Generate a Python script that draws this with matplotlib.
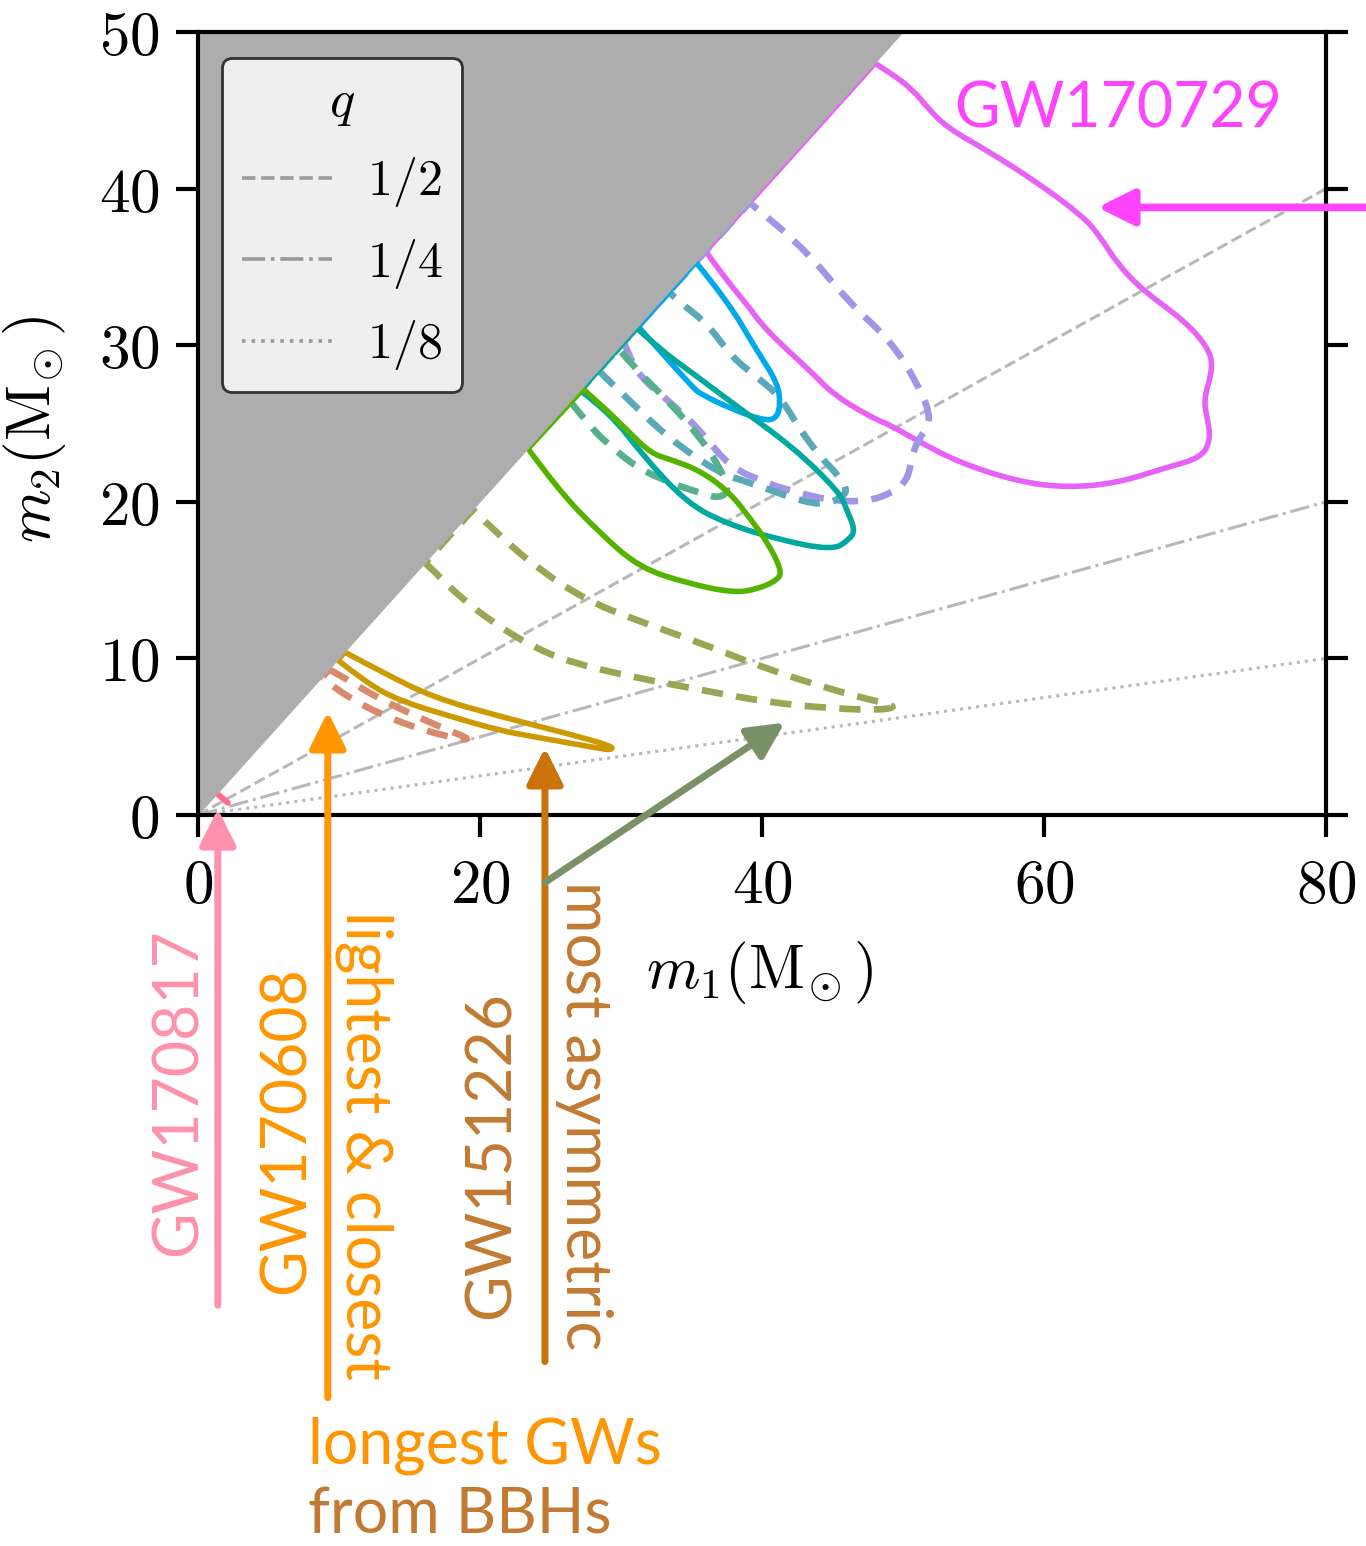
import numpy as np
import matplotlib.pyplot as plt
from matplotlib.path import Path
from matplotlib.patches import PathPatch
from matplotlib.ticker import FuncFormatter, MultipleLocator

plt.rcParams["mathtext.fontset"] = "cm"
plt.rcParams["font.family"] = ["Lato", "DejaVu Sans"]

# axis ranges (solar masses)
m1_max = 80
m2_max = 50

# mass-ratio guide lines m2 = q * m1
q_values = [1 / 2, 1 / 4, 1 / 8]
q_labels = [r"$1/2$", r"$1/4$", r"$1/8$"]
q_styles = ["--", "-.", ":"]

# 90% credible regions in the (m1, m2) plane
gw170729_m1 = [36.0, 36.8, 37.9, 39.1, 39.9, 41.3, 43.6, 45.0, 47.5, 49.3, 51.0, 54.0, 58.1,
               61.6, 65.2, 68.7, 71.1, 71.8, 71.6, 71.3, 72.0, 71.6, 69.9, 67.0, 65.2, 64.0,
               62.8, 59.5, 56.2, 53.1, 51.7, 50.7, 49.1, 48.0, 36.0]
gw170729_m2 = [36.0, 35.0, 33.7, 32.4, 31.4, 30.1, 28.2, 26.9, 25.5, 24.8, 23.9, 22.5, 21.3,
               20.9, 21.2, 22.2, 22.8, 23.9, 25.3, 26.5, 28.6, 29.9, 31.6, 33.5, 35.2, 36.9,
               38.2, 40.4, 42.3, 43.9, 45.2, 46.3, 47.4, 48.0, 36.0]

gw170823_m1 = [30.2, 30.4, 31.3, 33.3, 35.6, 37.7, 40.4, 41.3, 44.6, 47.4, 49.3, 50.3, 50.6,
               51.0, 52.1, 51.0, 49.1, 46.2, 42.5, 39.1, 30.2]
gw170823_m2 = [30.2, 29.7, 28.0, 26.5, 24.6, 22.2, 21.2, 20.9, 20.1, 20.0, 20.6, 21.4, 22.7,
               23.9, 25.2, 27.6, 30.3, 32.7, 36.7, 39.1, 30.2]

gw170104_m1 = [28.4, 28.7, 30.1, 33.3, 37.0, 38.9, 43.2, 44.8, 45.8, 46.0, 45.5, 44.1, 42.7,
               41.3, 39.6, 37.9, 36.1, 34.2, 33.4, 28.4]
gw170104_m2 = [28.4, 28.1, 26.9, 24.1, 21.8, 21.3, 19.9, 19.9, 20.4, 20.8, 21.6, 22.9, 24.6,
               26.7, 28.0, 29.2, 31.4, 32.7, 33.4, 28.4]

gw170818_m1 = [26.4, 28.0, 29.2, 31.1, 33.5, 35.5, 37.0, 37.7, 36.8, 35.6, 33.5, 31.1, 29.8, 26.4]
gw170818_m2 = [26.4, 24.6, 23.6, 22.2, 21.2, 20.6, 20.2, 20.8, 22.5, 24.1, 26.3, 28.4, 29.8, 26.4]

gw150914_m1 = [31.2, 33.3, 35.1, 35.6, 37.9, 40.1, 41.0, 41.3, 41.1, 39.6, 37.5, 35.3, 31.2]
gw150914_m2 = [31.2, 29.1, 27.3, 26.9, 25.9, 25.2, 25.3, 26.2, 27.6, 29.7, 32.9, 35.3, 31.2]

gw170809_m1 = [27.1, 29.2, 31.6, 34.7, 37.5, 41.1, 45.0, 46.2, 46.6, 46.0, 45.5, 42.2, 37.9,
               35.1, 32.8, 31.1, 27.1]
gw170809_m2 = [27.1, 25.7, 22.9, 19.9, 18.6, 17.6, 16.9, 17.6, 18.2, 19.5, 20.6, 23.5, 26.3,
               28.2, 29.7, 31.1, 27.1]

gw170814_m1 = [23.4, 25.5, 28.5, 31.3, 34.7, 37.9, 39.6, 41.1, 41.4, 40.4, 39.1, 37.7, 35.6,
               33.5, 32.1, 30.4, 28.7, 27.3, 23.4]
gw170814_m2 = [23.4, 20.8, 18.0, 15.8, 14.8, 14.2, 14.4, 15.0, 15.6, 17.4, 19.0, 20.6, 22.0,
               22.7, 23.1, 24.6, 26.1, 27.2, 23.4]

gw151012_m1 = [16.1, 16.7, 18.6, 20.9, 23.8, 26.6, 30.9, 35.6, 40.4, 45.0, 48.5, 49.6, 47.5,
               45.0, 40.4, 35.6, 30.9, 27.6, 24.3, 21.4, 19.5, 16.1]
gw151012_m2 = [16.1, 15.6, 13.9, 12.3, 10.7, 9.7, 8.8, 8.0, 7.2, 6.8, 6.7, 6.95, 7.4,
               8.0, 9.3, 11.0, 12.5, 13.7, 15.6, 17.8, 19.5, 16.1]

gw151226_m1 = [10.4, 13.1, 16.7, 21.4, 26.2, 29.4, 29.3, 28.5, 23.8, 21.4, 17.9, 14.3, 12.0, 9.9, 10.4]
gw151226_m2 = [10.4, 9.1, 7.5, 6.3, 5.2, 4.4, 4.15, 4.25, 5.0, 5.4, 6.3, 7.3, 8.4, 9.9, 10.4]

gw170608_m1 = [9.3, 10.5, 12.5, 15.0, 17.5, 19.2, 18.8, 16.0, 13.0, 10.5, 9.2, 8.8, 9.3]
gw170608_m2 = [9.3, 8.7, 7.6, 6.5, 5.5, 4.9, 4.8, 5.4, 6.4, 7.6, 8.5, 8.8, 9.3]

gw170817_m1 = [1.3, 2.15, 2.1, 1.25, 1.3]
gw170817_m2 = [1.45, 0.8, 0.75, 1.4, 1.45]

contours = [
    (gw170729_m1, gw170729_m2, "#e862f7", "-"),
    (gw170823_m1, gw170823_m2, "#a195e6", "--"),
    (gw170104_m1, gw170104_m2, "#5aa8b8", "--"),
    (gw170818_m1, gw170818_m2, "#56b08c", "--"),
    (gw150914_m1, gw150914_m2, "#00a9e9", "-"),
    (gw170809_m1, gw170809_m2, "#00a8a0", "-"),
    (gw170814_m1, gw170814_m2, "#55b300", "-"),
    (gw151012_m1, gw151012_m2, "#9ca553", "--"),
    (gw151226_m1, gw151226_m2, "#cc9900", "-"),
    (gw170608_m1, gw170608_m2, "#d9896d", "--"),
]


def outline_path(m1, m2):
    # smooth quadratic curve through the outline, closed by a straight run along m1 = m2
    p = np.column_stack([m1, m2])[:-1]
    verts = [p[0]]
    codes = [Path.MOVETO]
    k = len(p)
    for i in range(1, k - 1):
        end = (p[i] + p[i + 1]) / 2 if i < k - 2 else p[k - 1]
        verts += [p[i], end]
        codes += [Path.CURVE3, Path.CURVE3]
    verts.append(p[0])
    codes.append(Path.LINETO)
    return Path(verts, codes)


fig = plt.figure(figsize=(13.66, 15.46), dpi=100)
ax = fig.add_axes([0.145, 0.4728, 0.8258, 0.5065])

for m1, m2, color, ls in contours:
    if ls == "-":
        patch = PathPatch(outline_path(m1, m2), fc="none", ec=color, lw=4.0, joinstyle="round", zorder=2)
    else:
        patch = PathPatch(outline_path(m1, m2), fc="none", ec=color, lw=4.8, ls=(0, (3.2, 2.0)),
                          capstyle="butt", zorder=2)
    ax.add_patch(patch)

ax.plot(gw170817_m1, gw170817_m2, color="#ff6b8f", lw=3.5, solid_capstyle="round", zorder=2)

# q lines
m1_line = np.array([0, m1_max])
q_handles = []
for q, lab, ls in zip(q_values, q_labels, q_styles):
    h, = ax.plot(m1_line, q * m1_line, ls=ls, color="#b8b8b8", lw=2.2, label=lab, zorder=1)
    q_handles.append(h)

# m2 > m1 is excluded by convention
ax.fill_between([0, m2_max], [0, m2_max], m2_max, color="#adadad", lw=0, zorder=3)

ax.set_xlim(0, m1_max)
ax.set_ylim(0, m2_max)
ax.xaxis.set_major_locator(MultipleLocator(20))
ax.yaxis.set_major_locator(MultipleLocator(10))
fmt = FuncFormatter(lambda v, p: rf"${v:g}$")
ax.xaxis.set_major_formatter(fmt)
ax.yaxis.set_major_formatter(fmt)
ax.tick_params(direction="out", length=16, width=3, labelsize=44, right=True, pad=12)
ax.tick_params(axis="x", pad=14)
for s in ax.spines.values():
    s.set_linewidth(3)
    s.set_zorder(4)

ax.set_xlabel(r"$m_1(\mathrm{M}_{\!\odot})$", fontsize=44)
ax.set_ylabel(r"$m_2(\mathrm{M}_{\!\odot})$", fontsize=44)
ax.xaxis.set_label_coords(0.498, -0.158)
ax.yaxis.set_label_coords(-0.115, 0.492)

leg = ax.legend(handles=q_handles, title=r"$q$", loc="upper left", bbox_to_anchor=(0.021, 0.967),
                borderaxespad=0, fontsize=36, title_fontsize=38, handlelength=1.8,
                handletextpad=0.7, labelspacing=0.55, borderpad=0.4,
                facecolor="#efefef", edgecolor="#333333", framealpha=1)
leg.get_frame().set_linewidth(2)
leg.set_zorder(6)
for line in leg.get_lines():
    line.set_color("#9a9a9a")
    line.set_linewidth(2.6)

# annotations
def arrow(tip, tail, color, lw=5):
    ax.annotate("", xy=tip, xytext=tail, annotation_clip=False, zorder=7,
                arrowprops=dict(arrowstyle="-|>,head_length=22,head_width=11", mutation_scale=1,
                                lw=lw, color=color, shrinkA=0, shrinkB=0))

arrow((1.4, 0.4), (1.4, -31.3), "#ff91ad")
arrow((9.2, 6.6), (9.2, -37.2), "#ff9500")
arrow((24.6, 4.3), (24.6, -34.9), "#cc720a")
arrow((41.6, 5.9), (24.6, -4.3), "#7a9168")
arrow((63.8, 38.8), (82.8, 38.8), "#ff44ff", lw=5.5)

txt = dict(fontsize=45, clip_on=False, zorder=7)
ax.text(53.6, 43.9, "GW170729", color="#ff44ff", ha="left", va="baseline", **txt)
ax.text(-1.35, -17.7, "GW170817", color="#ff91ab", rotation=90, ha="center", va="center", **txt)
ax.text(6.3, -20.1, "GW170608", color="#ff9500", rotation=90, ha="center", va="center", **txt)
ax.text(11.8, -21.1, "lightest & closest", color="#ff9500", rotation=270, ha="center", va="center", **txt)
ax.text(20.8, -21.7, "GW151226", color="#c27a32", rotation=90, ha="center", va="center", **txt)
ax.text(27.4, -19.2, "most asymmetric", color="#c27a32", rotation=270, ha="center", va="center", **txt)
ax.text(7.8, -41.4, "longest GWs", color="#ff9500", ha="left", va="baseline", **txt)
ax.text(7.8, -45.9, "from BBHs", color="#c27a32", ha="left", va="baseline", **txt)

fig.savefig("out.png", dpi=100, facecolor="white")
